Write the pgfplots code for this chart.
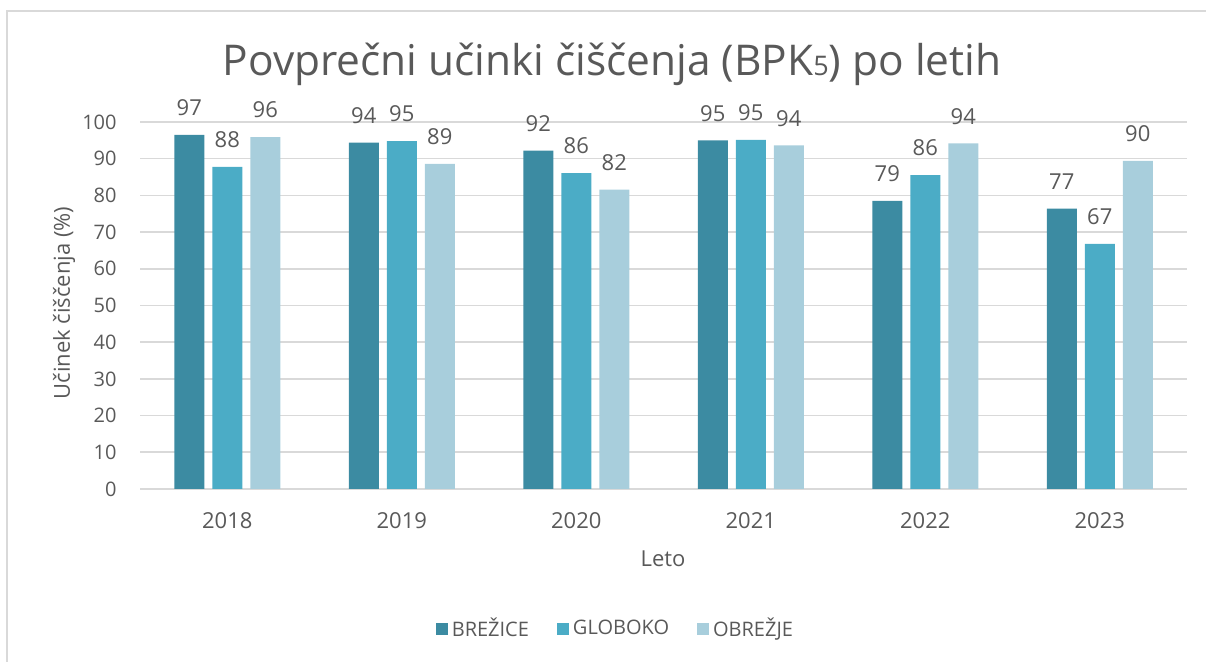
\documentclass[border=0pt]{standalone}
\usepackage{fontspec}
\setmainfont{Open Sans}
\usepackage{pgfplots}
\pgfplotsset{compat=1.18}
\definecolor{cA}{HTML}{3C8BA2}
\definecolor{cB}{HTML}{4BACC6}
\definecolor{cC}{HTML}{A8CEDC}
\definecolor{txt}{HTML}{595959}
\definecolor{grd}{HTML}{D9D9D9}
\begin{document}
\begin{tikzpicture}
\useasboundingbox (0,0) rectangle (603pt,331pt);
\draw[grd, line width=1pt] (3.4pt,0) -- (3.4pt,325.5pt) -- (603pt,325.5pt);
\node[anchor=center, text=txt, font=\fontsize{21.2}{25}\selectfont] at (306pt,299pt)
  {Povprečni učinki čiščenja (BPK{\fontsize{13.5}{15}\selectfont 5}) po letih};
\node[rotate=90, text=txt, font=\fontsize{11}{13}\selectfont] at (32pt,179.5pt) {Učinek čiščenja (\%)};
\node[text=txt, font=\fontsize{11}{13}\selectfont] at (331.5pt,51.5pt) {Leto};
\begin{axis}[
  at={(70pt,86.5pt)}, anchor=south west,
  scale only axis, width=523.5pt, height=183.5pt,
  ybar=4pt, bar width=15pt,
  xmin=-0.5, xmax=5.5, ymin=0, ymax=100,
  xtick={0,1,2,3,4,5},
  xticklabels={2018,2019,2020,2021,2022,2023},
  ytick={0,10,...,100},
  /pgf/number format/assume math mode=true,
  major tick length=0pt,
  axis line style={draw=none},
  ymajorgrids, grid style={grd, line width=0.8pt},
  extra y ticks={0}, extra y tick style={grid style={grd,line width=1pt}, yticklabels={}},
  yticklabel style={text=txt, font=\fontsize{10}{12}\selectfont, inner sep=0pt, xshift=-11.5pt},
  xticklabel style={text=txt, font=\fontsize{11}{13}\selectfont, inner sep=0pt, anchor=north, yshift=-11.5pt},
  point meta=explicit symbolic,
  nodes near coords,
  nodes near coords style={text=txt, font=\fontsize{11}{13}\selectfont, inner sep=0pt, anchor=south, yshift=9.3pt},
  legend columns=3,
  legend style={draw=none, fill=none, at={(0.455,-0.381)}, anchor=center,
    font=\fontsize{10}{12}\selectfont, text=txt,
    /tikz/every even column/.append style={column sep=12pt}},
  legend image code/.code={\fill[#1] (0pt,-3pt) rectangle (6pt,3pt);},
  clip=false,
]
\addplot[fill=cA, draw=none] coordinates {(0,96.5)[97] (1,94.4)[94] (2,92.2)[92] (3,95.0)[95] (4,78.5)[79] (5,76.4)[77]};
\addplot[fill=cB, draw=none] coordinates {(0,87.8)[88] (1,94.8)[95] (2,86.1)[86] (3,95.1)[95] (4,85.5)[86] (5,66.8)[67]};
\addplot[fill=cC, draw=none] coordinates {(0,95.9)[96] (1,88.6)[89] (2,81.6)[82] (3,93.6)[94] (4,94.2)[94] (5,89.4)[90]};
\legend{BREŽICE,GLOBOKO,OBREŽJE}
\end{axis}
\end{tikzpicture}
\end{document}
